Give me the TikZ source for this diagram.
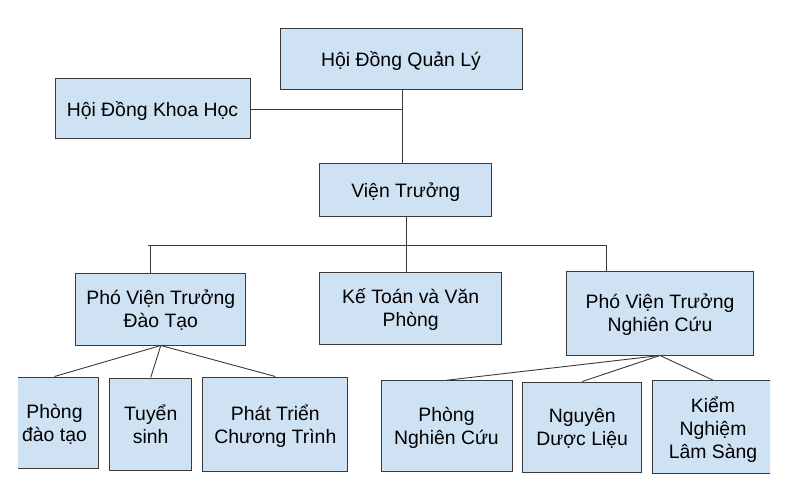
\documentclass[tikz,border=0pt]{standalone}
\usepackage{fontspec}
\setmainfont{Liberation Sans}
\definecolor{boxblue}{HTML}{CFE2F3}
\definecolor{edge}{HTML}{3A3A3A}
\tikzstyle{unit} = [rectangle, draw=edge, fill=boxblue, line width=1pt, align=center, inner sep=0pt, text depth=0pt, font=\fontsize{19.4}{23}\selectfont]
\tikzstyle{link} = [draw=edge, line width=0.9pt]
\newcommand{\unit}[6]{\node [unit, minimum width=#4pt, minimum height=#5pt] (#1) at (#2,#3) {#6};}

\begin{document}
\begin{tikzpicture}[x=1pt, y=-1pt]%
				\useasboundingbox (0,0) rectangle (791,486);
				\clip (18,0) rectangle (770,486);
				\unit{hdql}{401}{59.5}{242}{61}{Hội Đồng Quản Lý}
				\unit{hdkh}{152.5}{109}{195}{60}{Hội Đồng Khoa Học}
				\unit{vt}{405.7}{190}{171.5}{52}{Viện Trưởng}
				\unit{pvtdt}{160.8}{309}{170.3}{72}{Phó Viện Trưởng\\Đào Tạo}
				\unit{ketoan}{410.7}{308}{181.5}{72}{Kế Toán và Văn\\Phòng}
				\unit{pvtnc}{660}{313}{187}{84}{Phó Viện Trưởng\\Nghiên Cứu}
				\unit{pdt}{54.5}{422.5}{88.4}{91}{Phòng\\đào tạo}
				\unit{ts}{150.7}{424}{82}{92}{Tuyển\\sinh}
				\unit{ptct}{275.3}{424}{144.7}{94}{Phát Triển\\Chương Trình}
				\unit{pnc}{446.5}{426}{131}{90.5}{Phòng\\Nghiên Cứu}
				\unit{ndl}{582.2}{427}{119}{90}{Nguyên\\Dược Liệu}
				\unit{kn}{713}{427.3}{122}{93.3}{Kiểm\\Nghiệm\\Lâm Sàng}
				\coordinate (top) at (402,109);
				\coordinate (barL) at (148,245);
				\coordinate (barR) at (607,245);
				\coordinate (jdt) at (150,245);
				\coordinate (jkt) at (406,245);
				\coordinate (jnc) at (606,245);
				\draw [link] (top |- hdql.south) -- (top |- vt.north);
				\draw [link] (hdkh.east |- top) -- (top);
				\draw [link] (jkt |- vt.south) -- (jkt);
				\draw [link] (barL) -- (barR);
				\draw [link] (jdt) -- (jdt |- pvtdt.north);
				\draw [link] (jkt) -- (jkt |- ketoan.north);
				\draw [link] (jnc) -- (jnc |- pvtnc.north);
				\foreach \sub in {pdt, ts, ptct}
					\draw [link] (pvtdt.south) -- (\sub.north);
				\foreach \sub in {pnc, ndl, kn}
					\draw [link] (pvtnc.south) -- (\sub.north);
	\end{tikzpicture}
\end{document}
